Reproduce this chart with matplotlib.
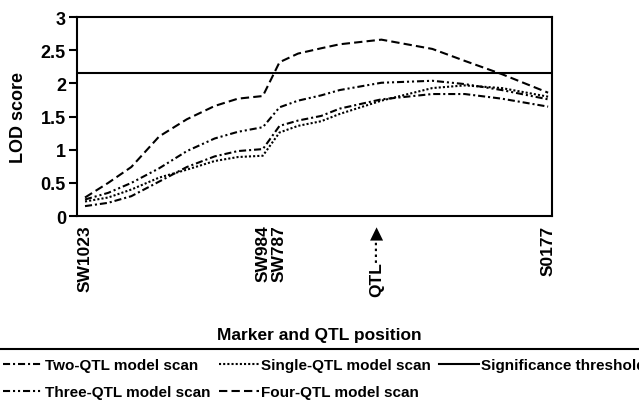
import matplotlib.pyplot as plt
from matplotlib.ticker import FormatStrFormatter

plt.rcParams['font.family'] = ['Liberation Sans', 'DejaVu Sans']
plt.rcParams['font.weight'] = 'bold'

# positions along the scanned region (SW1023 = 0, S0177 = 100)
pos = [0, 5, 10, 16, 22, 28, 33, 38.4, 42, 46, 51, 55, 64, 75, 82, 90, 100]

four_qtl = [0.28, 0.50, 0.74, 1.20, 1.46, 1.66, 1.77, 1.81, 2.32, 2.45, 2.53, 2.59, 2.66, 2.52, 2.34, 2.14, 1.86]
three_qtl = [0.25, 0.35, 0.50, 0.72, 0.98, 1.17, 1.27, 1.34, 1.64, 1.74, 1.82, 1.90, 2.01, 2.04, 1.99, 1.90, 1.76]
two_qtl = [0.15, 0.20, 0.30, 0.52, 0.74, 0.90, 0.98, 1.01, 1.36, 1.44, 1.51, 1.62, 1.76, 1.84, 1.84, 1.77, 1.65]
single_qtl = [0.22, 0.28, 0.40, 0.58, 0.70, 0.83, 0.89, 0.91, 1.26, 1.36, 1.43, 1.54, 1.74, 1.93, 1.97, 1.93, 1.80]
threshold = 2.15

marker_pos = [0, 38.4, 42, 63, 100]
marker_names = ['SW1023', 'SW984', 'SW787', 'QTL\u00b7\u00b7\u00b7\u00b7\u25b6', 'S0177']

fig = plt.figure(figsize=(6.39, 4.02), dpi=100)
ax = fig.add_axes([0.1205, 0.46, 0.7435, 0.495])

lw = 1.5
l2, = ax.plot(pos, two_qtl, color='black', lw=lw, ls=(0, (3.4, 1.4, 1, 1.4)), label='Two-QTL model scan')
l3, = ax.plot(pos, three_qtl, color='black', lw=lw, ls=(0, (3.4, 1.4, 1, 1.4, 1, 1.4)), label='Three-QTL model scan')
l1, = ax.plot(pos, single_qtl, color='black', lw=lw, ls=(0, (1, 1)), label='Single-QTL model scan')
l4, = ax.plot(pos, four_qtl, color='black', lw=lw, ls=(0, (4, 2)), label='Four-QTL model scan')
lt = ax.axhline(threshold, color='black', lw=lw, label='Significance threshold')

ax.set_xlim(-1.73, 100.86)
ax.set_ylim(0, 3)
ax.set_yticks([0, 0.5, 1, 1.5, 2, 2.5, 3])
ax.yaxis.set_major_formatter(FormatStrFormatter('%g'))
ax.tick_params(axis='y', length=6, width=1.5, pad=2, labelsize=13)
for t in ax.get_yticklabels():
    t.set_fontweight('bold')
ax.set_xticks(marker_pos, marker_names, rotation=90, fontsize=12.5, fontweight='bold')
ax.tick_params(axis='x', length=0, pad=6)
for s in ax.spines.values():
    s.set_linewidth(1.5)

ax.set_ylabel('LOD score', fontsize=13, fontweight='bold')
ax.yaxis.set_label_coords(-0.105, 0.5)
ax.set_xlabel('Marker and QTL position', fontsize=12.5, fontweight='bold')
ax.xaxis.set_label_coords(0.51, -0.555)

leg = fig.legend([l2, l3, l1, l4, lt],
                 ['Two-QTL model scan', 'Three-QTL model scan', 'Single-QTL model scan',
                  'Four-QTL model scan', 'Significance threshold'],
                 ncol=3, loc='upper left', bbox_to_anchor=(-6 / 639, 1 - 350 / 402),
                 borderaxespad=0, borderpad=0.6, fontsize=11, handlelength=2.6,
                 handletextpad=0.15, columnspacing=0.55, labelspacing=0.85,
                 fancybox=False, edgecolor='black', framealpha=1)
leg.get_frame().set_linewidth(1.5)

fig.savefig('out.png', dpi=100)
